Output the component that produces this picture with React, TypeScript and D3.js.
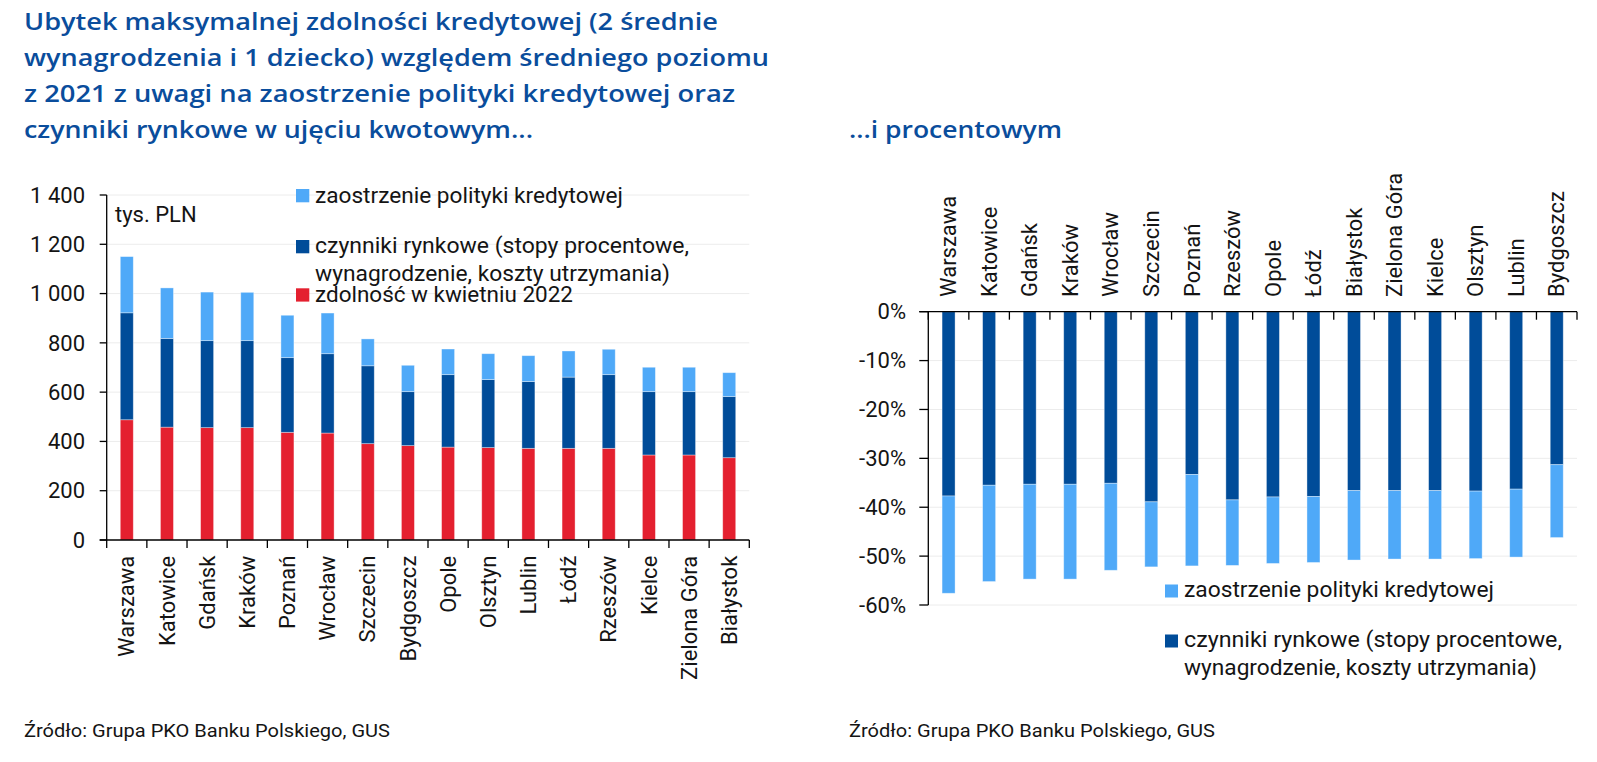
import React from "react";
import * as d3 from "d3";

// ---------- DATA ----------
const leftCities = ["Warszawa", "Katowice", "Gdańsk", "Kraków", "Poznań", "Wrocław", "Szczecin", "Bydgoszcz", "Opole", "Olsztyn", "Lublin", "Łódź", "Rzeszów", "Kielce", "Zielona Góra", "Białystok"];
const capacity2022 = [488, 458, 456, 456, 437, 434, 391, 383, 377, 375, 372, 372, 372, 345, 345, 334];
const marketLossAbs = [434, 360, 353, 353, 303, 322, 316, 219, 294, 276, 271, 289, 299, 257, 257, 248];
const policyLossAbs = [228, 205, 197, 196, 172, 165, 109, 107, 104, 105, 105, 106, 103, 99, 99, 97];
const leftTicks = [0, 200, 400, 600, 800, 1000, 1200, 1400];

const rightCities = ["Warszawa", "Katowice", "Gdańsk", "Kraków", "Wrocław", "Szczecin", "Poznań", "Rzeszów", "Opole", "Łódź", "Białystok", "Zielona Góra", "Kielce", "Olsztyn", "Lublin", "Bydgoszcz"];
const marketLossPct = [-37.7, -35.5, -35.3, -35.3, -35.1, -38.9, -33.3, -38.5, -37.9, -37.8, -36.6, -36.6, -36.6, -36.7, -36.3, -31.3];
const policyLossPct = [-19.9, -19.7, -19.4, -19.4, -17.8, -13.3, -18.7, -13.4, -13.6, -13.5, -14.2, -14.0, -14.0, -13.8, -13.9, -14.9];
const rightTicks = [0, -10, -20, -30, -40, -50, -60];

const titleLines = [
  "Ubytek maksymalnej zdolności kredytowej (2 średnie",
  "wynagrodzenia i 1 dziecko) względem średniego poziomu",
  "z 2021 z uwagi na zaostrzenie polityki kredytowej oraz",
  "czynniki rynkowe w ujęciu kwotowym...",
];
const titleRight = "...i procentowym";
const legendPolicy = "zaostrzenie polityki kredytowej";
const legendMarket1 = "czynniki rynkowe (stopy procentowe,";
const legendMarket2 = "wynagrodzenie, koszty utrzymania)";
const legendCapacity = "zdolność w kwietniu 2022";
const unitLabel = "tys. PLN";
const sourceText = "Źródło: Grupa PKO Banku Polskiego, GUS";

// ---------- STYLE ----------
const C_LIGHT = "#4fa9f8";
const C_DARK = "#004c99";
const C_RED = "#e4202f";
const C_TITLE = "#0a4d9c";
const C_TEXT = "#141414";
const C_GRID = "#ececec";
const FONT = "Roboto, 'Open Sans', sans-serif";
const TFONT = "'Open Sans', 'Noto Sans', sans-serif";

const plPct = d3.formatLocale({ decimal: ",", thousands: " ", grouping: [3], currency: ["", ""] });
const fmtAbs = plPct.format(",");
const fmtPct = (v: number) => `${v}%`;

export default function App() {
  // left chart
  const Lx0 = 106.7, Lx1 = 749.3, Ly0 = 540, Ly1 = 195;
  const pad = 1 - 13 / ((Lx1 - Lx0) / leftCities.length);
  const xL = d3.scaleBand<string>().domain(leftCities).range([Lx0, Lx1]).paddingInner(pad).paddingOuter(pad / 2);
  const yL = d3.scaleLinear().domain([0, 1400]).range([Ly0, Ly1]);
  const leftRows = leftCities.map((c, i) => ({ city: c, cap: capacity2022[i], market: marketLossAbs[i], policy: policyLossAbs[i] }));
  const leftKeys = ["cap", "market", "policy"];
  const leftColors: Record<string, string> = { cap: C_RED, market: C_DARK, policy: C_LIGHT };
  const leftStack = d3.stack<any>().keys(leftKeys)(leftRows);
  const stepL = (Lx1 - Lx0) / leftCities.length;

  // right chart
  const Rx0 = 928.3, Rx1 = 1577, Ry0 = 311.7, Ry1 = 605;
  const padR = 1 - 13 / ((Rx1 - Rx0) / rightCities.length);
  const xR = d3.scaleBand<string>().domain(rightCities).range([Rx0, Rx1]).paddingInner(padR).paddingOuter(padR / 2);
  const yR = d3.scaleLinear().domain([-60, 0]).range([Ry1, Ry0]);
  const rightRows = rightCities.map((c, i) => ({ city: c, market: marketLossPct[i], policy: policyLossPct[i] }));
  const rightKeys = ["market", "policy"];
  const rightColors: Record<string, string> = { market: C_DARK, policy: C_LIGHT };
  const rightStack = d3.stack<any>().keys(rightKeys).offset(d3.stackOffsetDiverging)(rightRows);
  const stepR = (Rx1 - Rx0) / rightCities.length;

  const titleLens = [694, 745, 711, 509];

  return (
    <svg width={1597} height={762} style={{ position: "absolute", left: 0, top: 0, display: "block", background: "#fff" }}>
      {/* Titles */}
      {titleLines.map((t, i) => (
        <text key={i} x={24} y={29.5 + i * 36} fontFamily={TFONT} fontWeight={600} fontSize={24} fill={C_TITLE}
          textLength={titleLens[i]} lengthAdjust="spacingAndGlyphs">{t}</text>
      ))}
      <text x={849} y={137.7} fontFamily={TFONT} fontWeight={600} fontSize={24} fill={C_TITLE}
        textLength={213} lengthAdjust="spacingAndGlyphs">{titleRight}</text>

      {/* ---------- LEFT CHART ---------- */}
      {leftTicks.filter((t) => t > 0).map((t) => (
        <line key={"gl" + t} x1={Lx0} x2={Lx1} y1={yL(t)} y2={yL(t)} stroke={C_GRID} strokeWidth={1} />
      ))}
      {leftStack.map((layer) =>
        layer.map((d, i) => (
          <rect key={layer.key + i} x={xL(leftCities[i])} width={xL.bandwidth()} y={yL(d[1])} height={yL(d[0]) - yL(d[1])}
            fill={leftColors[layer.key]} stroke="rgba(255,255,255,0.45)" strokeWidth={0.8} />
        ))
      )}
      <line x1={Lx0} x2={Lx0} y1={Ly1} y2={Ly0} stroke="#000" strokeWidth={1.3} />
      <line x1={Lx0 - 7} x2={Lx1} y1={Ly0} y2={Ly0} stroke="#000" strokeWidth={1.3} />
      {leftTicks.map((t) => (
        <g key={"tl" + t}>
          <line x1={Lx0 - 7} x2={Lx0} y1={yL(t)} y2={yL(t)} stroke="#000" strokeWidth={1.3} />
          <text x={85} y={yL(t)} dy="0.35em" textAnchor="end" fontFamily={FONT} fontSize={22} fill={C_TEXT}>{fmtAbs(t)}</text>
        </g>
      ))}
      {d3.range(leftCities.length + 1).map((i) => (
        <line key={"tkl" + i} x1={Lx0 + i * stepL} x2={Lx0 + i * stepL} y1={Ly0} y2={Ly0 + 8} stroke="#000" strokeWidth={1.3} />
      ))}
      {leftCities.map((c) => {
        const cx = (xL(c) as number) + xL.bandwidth() / 2;
        return (
          <text key={"ll" + c} transform={`translate(${cx},555.7) rotate(-90)`} dy="0.35em" textAnchor="end"
            fontFamily={FONT} fontSize={22} fill={C_TEXT}>{c}</text>
        );
      })}
      <text x={115} y={221.7} fontFamily={FONT} fontSize={22} fill={C_TEXT}>{unitLabel}</text>

      {/* left legend */}
      <rect x={296} y={189} width={13.3} height={13.3} fill={C_LIGHT} />
      <text x={315} y={203} fontFamily={FONT} fontSize={22} fill={C_TEXT} textLength={308} lengthAdjust="spacingAndGlyphs">{legendPolicy}</text>
      <rect x={296} y={240} width={13.3} height={13.3} fill={C_DARK} />
      <text x={315} y={253.3} fontFamily={FONT} fontSize={22} fill={C_TEXT} textLength={374} lengthAdjust="spacingAndGlyphs">{legendMarket1}</text>
      <text x={315} y={281} fontFamily={FONT} fontSize={22} fill={C_TEXT} textLength={355} lengthAdjust="spacingAndGlyphs">{legendMarket2}</text>
      <rect x={296} y={288.3} width={13.3} height={13.3} fill={C_RED} />
      <text x={315} y={301.7} fontFamily={FONT} fontSize={22} fill={C_TEXT} textLength={258} lengthAdjust="spacingAndGlyphs">{legendCapacity}</text>

      {/* ---------- RIGHT CHART ---------- */}
      {rightTicks.filter((t) => t < 0).map((t) => (
        <line key={"gr" + t} x1={Rx0} x2={Rx1} y1={yR(t)} y2={yR(t)} stroke={C_GRID} strokeWidth={1} />
      ))}
      {rightStack.map((layer) =>
        layer.map((d, i) => (
          <rect key={layer.key + i} x={xR(rightCities[i])} width={xR.bandwidth()} y={yR(Math.max(d[0], d[1]))}
            height={Math.abs(yR(d[0]) - yR(d[1]))} fill={rightColors[layer.key]} stroke="rgba(255,255,255,0.45)" strokeWidth={0.8} />
        ))
      )}
      <line x1={Rx0} x2={Rx0} y1={Ry0} y2={Ry1} stroke="#000" strokeWidth={1.3} />
      <line x1={Rx0 - 9} x2={Rx1} y1={Ry0} y2={Ry0} stroke="#000" strokeWidth={1.3} />
      {rightTicks.map((t) => (
        <g key={"tr" + t}>
          <line x1={Rx0 - 9} x2={Rx0} y1={yR(t)} y2={yR(t)} stroke="#000" strokeWidth={1.3} />
          <text x={906} y={yR(t)} dy="0.35em" textAnchor="end" fontFamily={FONT} fontSize={22} fill={C_TEXT}>{fmtPct(t)}</text>
        </g>
      ))}
      {d3.range(rightCities.length + 1).map((i) => (
        <line key={"tkr" + i} x1={Rx0 + i * stepR} x2={Rx0 + i * stepR} y1={Ry0} y2={Ry0 + 8} stroke="#000" strokeWidth={1.3} />
      ))}
      {rightCities.map((c) => {
        const cx = (xR(c) as number) + xR.bandwidth() / 2;
        return (
          <text key={"rl" + c} transform={`translate(${cx},297) rotate(-90)`} dy="0.35em" textAnchor="start"
            fontFamily={FONT} fontSize={22} fill={C_TEXT}>{c}</text>
        );
      })}

      {/* right legend */}
      <rect x={1165} y={584.5} width={13} height={13} fill={C_LIGHT} />
      <text x={1184} y={597} fontFamily={FONT} fontSize={22} fill={C_TEXT} textLength={310} lengthAdjust="spacingAndGlyphs">{legendPolicy}</text>
      <rect x={1165} y={634.5} width={13} height={13} fill={C_DARK} />
      <text x={1184} y={647} fontFamily={FONT} fontSize={22} fill={C_TEXT} textLength={378} lengthAdjust="spacingAndGlyphs">{legendMarket1}</text>
      <text x={1184} y={675} fontFamily={FONT} fontSize={22} fill={C_TEXT} textLength={353} lengthAdjust="spacingAndGlyphs">{legendMarket2}</text>

      {/* sources */}
      <text x={24} y={737} fontFamily={FONT} fontSize={19} fill={C_TEXT} textLength={366} lengthAdjust="spacingAndGlyphs">{sourceText}</text>
      <text x={849} y={737} fontFamily={FONT} fontSize={19} fill={C_TEXT} textLength={366} lengthAdjust="spacingAndGlyphs">{sourceText}</text>
    </svg>
  );
}
